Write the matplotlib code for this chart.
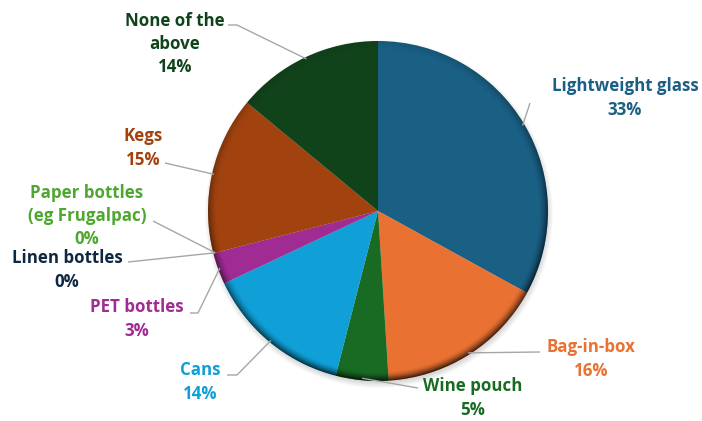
import matplotlib.pyplot as plt
import numpy as np

plt.rcParams['font.family'] = ['Open Sans', 'DejaVu Sans']

# survey shares, clockwise from 12 o'clock
labels = ['Lightweight glass', 'Bag-in-box', 'Wine pouch', 'Cans', 'PET bottles',
          'Linen bottles', 'Paper bottles\n(eg Frugalpac)', 'Kegs', 'None of the\nabove']
values = [33, 16, 5, 14, 3, 0, 0, 15, 14]
colors = ['#1a5f84', '#e97132', '#196b24', '#109fd6', '#a02b93',
          '#0e2841', '#4ea72e', '#a2430f', '#11431b']
text_colors = ['#1a5f84', '#e97132', '#196b24', '#109fd6', '#a02b93',
               '#0e2841', '#4ea72e', '#a2430f', '#11431b']

W, H = 702, 421
cx, cy, R = 378, H - 211, 170

fig = plt.figure(figsize=(W / 100, H / 100), dpi=100)
ax = fig.add_axes([0, 0, 1, 1])
ax.axis('off')

# soft shadow under the pie
for k in range(8):
    sh = plt.Circle((cx + 1, cy - 3), R + 4 - k * 0.8, color='black', alpha=0.018, lw=0, zorder=0)
    ax.add_patch(sh)

wedges, _ = ax.pie(values, colors=colors, startangle=90, counterclock=False,
                   center=(cx, cy), radius=R, frame=False,
                   wedgeprops=dict(linewidth=0))
ax.set_xlim(0, W)
ax.set_ylim(0, H)
ax.set_aspect('equal')

# bevel: darken a thin band along the rim, heavier toward the bottom
gx, gy = np.meshgrid(np.linspace(cx - R, cx + R, 400), np.linspace(cy - R, cy + R, 400))
dx, dy = gx - cx, gy - cy
rr = np.hypot(dx, dy)
band = np.clip((rr - (R - 9)) / 9, 0, 1) ** 1.6
side = 0.55 + 0.45 * np.clip(-dy / R + 0.2 * dx / R, -1, 1)
alpha = np.clip(band * side * 0.75, 0, 1)
shade = np.zeros((400, 400, 4))
shade[..., 3] = alpha
im = ax.imshow(shade, extent=(cx - R, cx + R, cy - R, cy + R), origin='lower',
               interpolation='bilinear', zorder=3)
im.set_clip_path(plt.Circle((cx, cy), R, transform=ax.transData))

# label anchors (text centre, leader start, optional elbow)
text_pos = [(625, 98), (591, 359), (473, 398), (200, 382), (137, 319),
            (67, 270), (87, 216), (143, 148), (175, 44)]
leader_start = [(530, 103), (540, 352), (418, 388), (227, 375), (190, 313),
                (128, 262), (153, 221), (165, 163), (228, 25)]
elbow = [None, None, None, (237, 375), (198, 313), None, None, None, (237, 25)]

bounds = np.cumsum([0] + values) / sum(values)
for i, lab in enumerate(labels):
    mid = 90 - 360 * (bounds[i] + bounds[i + 1]) / 2
    ex = cx + (R - 2) * np.cos(np.radians(mid))
    ey = cy + (R - 2) * np.sin(np.radians(mid))
    pts = [leader_start[i]]
    if elbow[i] is not None:
        pts.append(elbow[i])
    xs = [p[0] for p in pts] + [ex]
    ys = [H - p[1] for p in pts] + [ey]
    ax.plot(xs, ys, color='#a6a6a6', lw=1, zorder=4, solid_capstyle='butt')
    tx, ty = text_pos[i]
    ax.text(tx, H - ty, f'{lab}\n{values[i]}%', ha='center', va='center',
            color=text_colors[i], fontsize=12.2, fontweight='bold', linespacing=1.38)

fig.savefig('out.png', dpi=100, facecolor='white')
